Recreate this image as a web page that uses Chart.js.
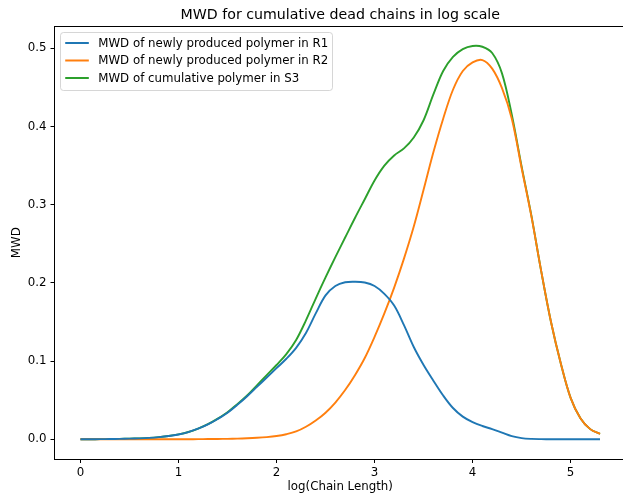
<!DOCTYPE html>
<html><head><meta charset="utf-8">
<script src="https://cdn.jsdelivr.net/npm/chart.js@4/dist/chart.umd.min.js"></script>
<style>html,body{margin:0;padding:0;background:#fff;overflow:hidden;}#wrap{width:627px;height:494px;}</style>
</head><body><div id="wrap"><canvas id="c" width="627" height="494"></canvas></div>
<script>
const chartTitle = "MWD for cumulative dead chains in log scale";
const xAxisLabel = "log(Chain Length)";
const yAxisLabel = "MWD";
const seriesLabels = ["MWD of newly produced polymer in R1", "MWD of newly produced polymer in R2", "MWD of cumulative polymer in S3"];
const xTicks = [0, 1, 2, 3, 4, 5];
const yTicks = [0.0, 0.1, 0.2, 0.3, 0.4, 0.5];
const logChainLength = [0.0,0.1,0.2,0.3,0.4,0.5,0.6,0.7,0.8,0.9,1.0,1.1,1.2,1.3,1.4,1.5,1.6,1.7,1.8,1.9,2.0,2.1,2.2,2.3,2.4,2.5,2.6,2.7,2.8,2.9,3.0,3.1,3.2,3.3,3.4,3.5,3.6,3.7,3.8,3.9,4.0,4.1,4.2,4.3,4.4,4.5,4.6,4.7,4.8,4.9,5.0,5.1,5.2,5.3];
const mwdR1 = [0,0.0001,0.0002,0.0003,0.0005,0.0008,0.0012,0.0018,0.0028,0.0042,0.0062,0.0092,0.0135,0.019,0.026,0.034,0.044,0.055,0.067,0.079,0.091,0.103,0.117,0.136,0.161,0.184,0.196,0.2008,0.2015,0.2005,0.196,0.186,0.171,0.146,0.118,0.095,0.075,0.056,0.040,0.029,0.022,0.017,0.013,0.0085,0.004,0.0015,0.0005,0.0002,0.0001,0,0,0,0,0];
const mwdR2 = [0,0,0,0,0,0,0,0,0,0,0.0001,0.0001,0.0002,0.0003,0.0004,0.0006,0.0009,0.0013,0.0019,0.0028,0.0042,0.0065,0.010,0.016,0.024,0.034,0.047,0.063,0.082,0.104,0.131,0.161,0.194,0.231,0.272,0.319,0.367,0.410,0.447,0.471,0.482,0.485,0.474,0.449,0.410,0.347,0.285,0.215,0.150,0.097,0.053,0.027,0.013,0.007];
const mwdS3 = [0,0.0001,0.0002,0.0003,0.0005,0.0008,0.0012,0.0018,0.0028,0.0042,0.0063,0.0093,0.0137,0.0193,0.0264,0.0346,0.045,0.056,0.069,0.082,0.095,0.109,0.127,0.152,0.180,0.207,0.233,0.258,0.283,0.307,0.331,0.350,0.363,0.372,0.386,0.408,0.441,0.471,0.489,0.499,0.503,0.502,0.494,0.468,0.415,0.349,0.286,0.215,0.150,0.097,0.053,0.027,0.013,0.007];
const seriesColors = ["#1f77b4", "#ff7f0e", "#2ca02c"];

const FONT = '"DejaVu Sans", sans-serif';
const FS = 11.8;

function pts(ys){ return logChainLength.map((x,i)=>({x:x, y:ys[i]})); }

const framePlugin = {
  id: 'frame',
  afterDatasetsDraw(chart){
    const {ctx, chartArea:a} = chart;
    ctx.save();
    ctx.strokeStyle = '#000'; ctx.lineWidth = 1;
    const l = Math.floor(a.left)+0.5, t = Math.floor(a.top)+0.5, r = Math.floor(a.right)+0.5, b = Math.floor(a.bottom)+0.5;
    ctx.strokeRect(l, t, r-l, b-t);
    ctx.restore();
  },
  afterDraw(chart){
    const {ctx, chartArea:a} = chart;
    ctx.save();
    ctx.fillStyle = '#000';
    ctx.font = `14.2px ${FONT}`;
    ctx.textAlign = 'center'; ctx.textBaseline = 'alphabetic';
    ctx.fillText(chartTitle, (a.left + a.right)/2, 19);
    ctx.font = `${FS}px ${FONT}`;
    const tw = Math.max(...seriesLabels.map(t=>ctx.measureText(t).width));
    const pad = FS*0.4, hl = FS*2, htp = FS*0.8;
    const bx = Math.floor(a.left) + 6.5, by = Math.floor(a.top) + 6.5;
    const bw = Math.round(pad*2 + hl + htp + tw), bh = 58;
    const r = 3;
    ctx.beginPath();
    ctx.moveTo(bx+r, by); ctx.lineTo(bx+bw-r, by); ctx.arcTo(bx+bw, by, bx+bw, by+r, r);
    ctx.lineTo(bx+bw, by+bh-r); ctx.arcTo(bx+bw, by+bh, bx+bw-r, by+bh, r);
    ctx.lineTo(bx+r, by+bh); ctx.arcTo(bx, by+bh, bx, by+bh-r, r);
    ctx.lineTo(bx, by+r); ctx.arcTo(bx, by, bx+r, by, r); ctx.closePath();
    ctx.fillStyle = 'rgba(255,255,255,0.8)'; ctx.fill();
    ctx.strokeStyle = 'rgba(204,204,204,0.8)'; ctx.lineWidth = 1; ctx.stroke();
    ctx.textAlign = 'left'; ctx.textBaseline = 'middle';
    seriesLabels.forEach((t,i)=>{
      const y = by + 10.5 + i*17.5;
      ctx.strokeStyle = seriesColors[i]; ctx.lineWidth = 2;
      ctx.beginPath(); ctx.moveTo(bx+pad, y); ctx.lineTo(bx+pad+hl, y); ctx.stroke();
      ctx.fillStyle = '#000';
      ctx.fillText(t, bx+pad+hl+htp, y+0.5);
    });
    ctx.restore();
  }
};

new Chart(document.getElementById('c'), {
  type: 'line',
  data: {
    datasets: [mwdR1, mwdR2, mwdS3].map((ys,i)=>({
      label: seriesLabels[i], data: pts(ys), borderColor: seriesColors[i], backgroundColor: seriesColors[i],
      borderWidth: 1.9, pointRadius: 0, fill: false, tension: 0.35
    }))
  },
  options: {
    responsive: false, animation: false, devicePixelRatio: 1,
    layout: { padding: { top: 26.5, left: 0, right: 1, bottom: 0 } },
    plugins: { legend: { display: false }, title: { display: false }, tooltip: { enabled: false } },
    scales: {
      x: {
        type: 'linear', min: -0.265, max: 5.565,
        afterBuildTicks: s => { s.ticks = xTicks.map(v=>({value:v})); },
        afterFit: s => { s.height = 35; },
        ticks: { color: '#000', font: { family: FONT, size: FS }, padding: 3, maxRotation: 0, callback: v => String(v) },
        grid: { display: true, drawOnChartArea: false, drawTicks: true, tickLength: 4, color: '#000', tickWidth: 1 },
        border: { display: false },
        title: { display: true, text: xAxisLabel, color: '#000', font: { family: FONT, size: FS }, padding: { top: 0, bottom: 0 } }
      },
      y: {
        type: 'linear', min: -0.0252, max: 0.5279,
        afterBuildTicks: s => { s.ticks = yTicks.map(v=>({value:v})); },
        afterFit: s => { s.width = 54.5; },
        ticks: { color: '#000', font: { family: FONT, size: FS }, padding: 4, callback: v => Number(v).toFixed(1) },
        grid: { display: true, drawOnChartArea: false, drawTicks: true, tickLength: 4, color: '#000', tickWidth: 1 },
        border: { display: false },
        title: { display: true, text: yAxisLabel, color: '#000', font: { family: FONT, size: FS }, padding: { top: 9.5, bottom: 0 } }
      }
    }
  },
  plugins: [framePlugin]
});
</script>
</body></html>
